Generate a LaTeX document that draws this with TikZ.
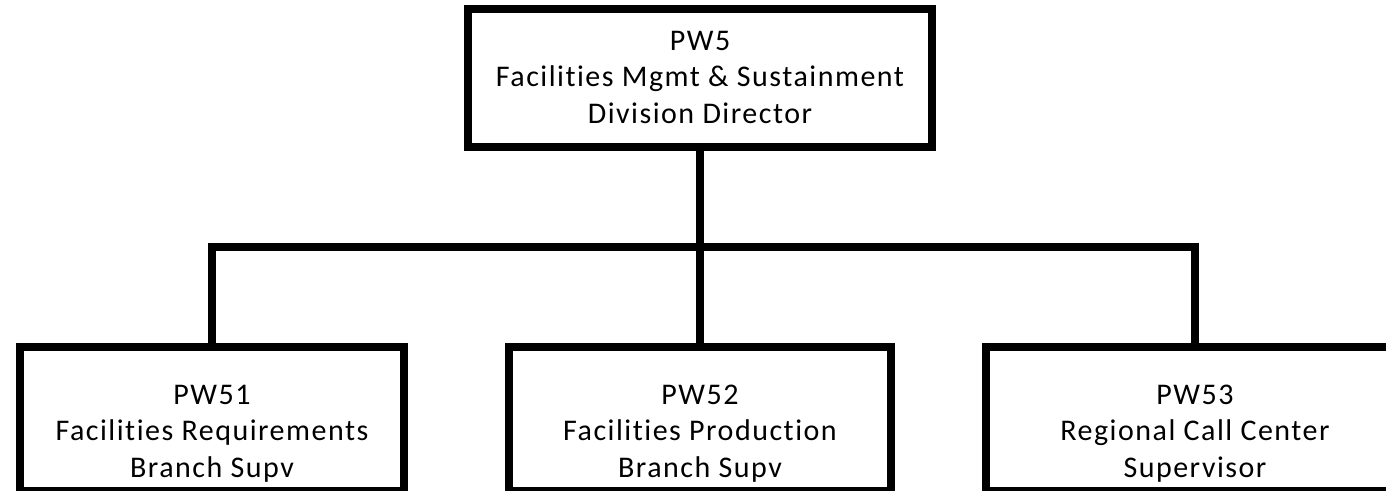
\documentclass[tikz,border=0pt]{standalone}
\usepackage{fontspec}
\setmainfont{Carlito}[Ligatures=NoCommon,LetterSpace=5]
\begin{document}
\begin{tikzpicture}[x=1pt,y=-1pt,
		box/.style={rectangle,draw,line width=8pt,align=center,inner sep=0pt,
			font=\fontsize{30}{36.5}\selectfont},
		topbox/.style={box,text height=114pt,text depth=24pt},
		subbox/.style={box,text height=130pt,text depth=14pt},
		link/.style={line width=8pt}]
		\useasboundingbox (0,0) rectangle (1386,490);
		\node[topbox,minimum width=464pt] (pw5) at (700,78)
			{PW5\\Facilities Mgmt \& Sustainment\\Division Director};
		\node[subbox,minimum width=384pt] (pw51) at (212,419)
			{PW51\\Facilities Requirements\\Branch Supv};
		\node[subbox,minimum width=382pt] (pw52) at (700,419)
			{PW52\\Facilities Production\\Branch Supv};
		\node[subbox,minimum width=418pt] (pw53) at (1195,419)
			{PW53\\Regional Call Center\\Supervisor};
		\coordinate (bus) at (700,247);

		% connection
		\draw [link] (pw5) -- (pw52);
		\draw [link] (pw51.north) |- (bus) -| (pw53.north);
	\end{tikzpicture}
\end{document}
